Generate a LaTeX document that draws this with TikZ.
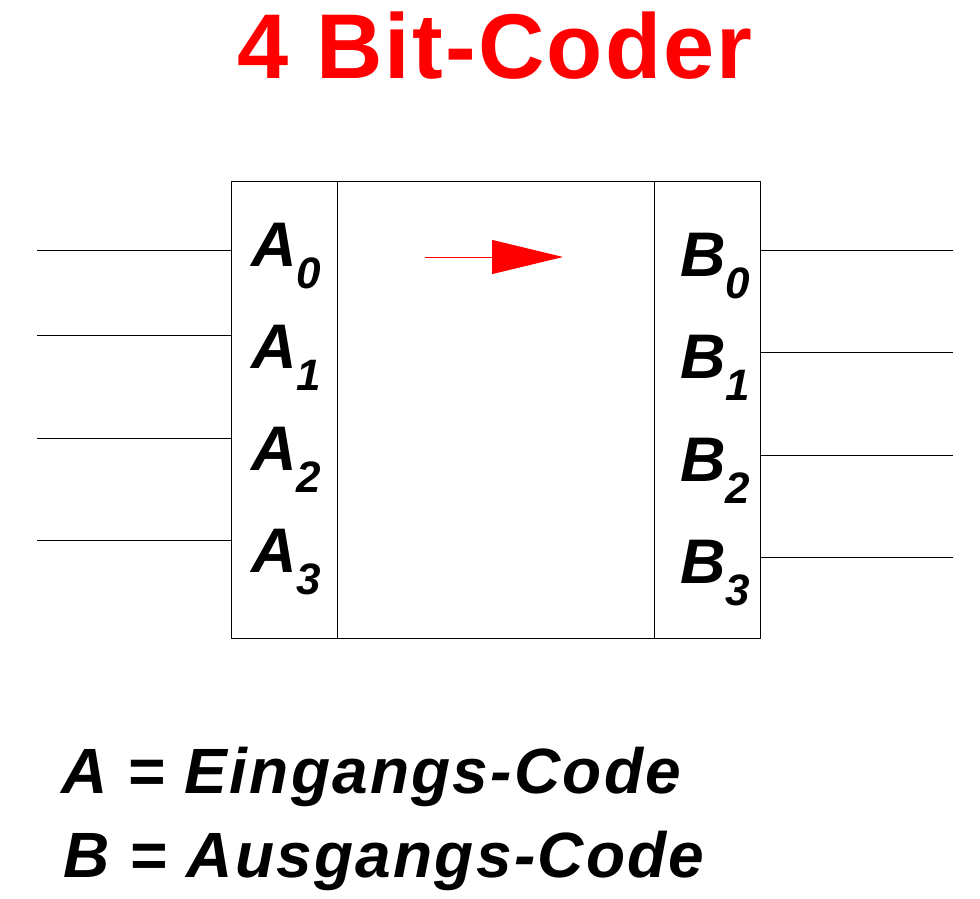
\documentclass[tikz,border=0pt]{standalone}
\usepackage{fontspec}
\setmainfont{Liberation Sans}
\usetikzlibrary{positioning,arrows.meta}
\tikzset{
  wire/.style={line width=1pt},
  pinname/.style={anchor=base west, inner sep=0pt, font=\fontsize{63}{63}\selectfont\bfseries\itshape},
  legend/.style={anchor=base west, inner sep=0pt, font=\fontsize{64}{64}\selectfont\bfseries\itshape\addfontfeature{LetterSpace=3.5}}
}
\newcommand{\sig}[2]{#1\raisebox{-22pt}{\fontsize{44}{44}\selectfont #2}}
\begin{document}
\begin{tikzpicture}[x=1pt,y=-1pt]
  \useasboundingbox (0,0) rectangle (980,898);
  \node[anchor=base, inner sep=0pt, red, font=\fontsize{92}{92}\selectfont\bfseries\addfontfeature{LetterSpace=2.4}] (title) at (495,78) {4 Bit-Coder};
  % box
  \node[draw, wire, minimum width=529pt, minimum height=457pt, inner sep=0pt] (coder) at (495.5,409.5) {};
  \draw[wire] (337,181) -- (337,638);
  \draw[wire] (654,181) -- (654,638);
  % inputs
  \coordinate (in0) at (37,250);
  \coordinate (in1) at (37,335);
  \coordinate (in2) at (37,438);
  \coordinate (in3) at (37,540);
  \draw[wire] (in0) -- (in0 -| coder.west);
  \draw[wire] (in1) -- (in1 -| coder.west);
  \draw[wire] (in2) -- (in2 -| coder.west);
  \draw[wire] (in3) -- (in3 -| coder.west);
  % outputs
  \coordinate (out0) at (953,250);
  \coordinate (out1) at (953,352);
  \coordinate (out2) at (953,455);
  \coordinate (out3) at (953,557);
  \draw[wire] (out0 -| coder.east) -- (out0);
  \draw[wire] (out1 -| coder.east) -- (out1);
  \draw[wire] (out2 -| coder.east) -- (out2);
  \draw[wire] (out3 -| coder.east) -- (out3);
  % pin names
  \node[pinname] (a0) at (251,266) {\sig{A}{0}};
  \node[pinname] (a1) at (251,368) {\sig{A}{1}};
  \node[pinname] (a2) at (251,470) {\sig{A}{2}};
  \node[pinname] (a3) at (251,572) {\sig{A}{3}};
  \node[pinname] (b0) at (680,276) {\sig{B}{0}};
  \node[pinname] (b1) at (680,378) {\sig{B}{1}};
  \node[pinname] (b2) at (680,481) {\sig{B}{2}};
  \node[pinname] (b3) at (680,583) {\sig{B}{3}};
  % direction
  \coordinate (arrtail) at (425,257);
  \coordinate (arrtip) at (563,257);
  \draw[red, line width=1pt, -{Triangle[length=71pt,width=34pt]}] (arrtail) -- (arrtip);
  % legend
  \node[legend] (ina) at (61,793) {A = Eingangs-Code};
  \node[legend] (outb) at (63,877) {B = Ausgangs-Code};
\end{tikzpicture}
\end{document}
